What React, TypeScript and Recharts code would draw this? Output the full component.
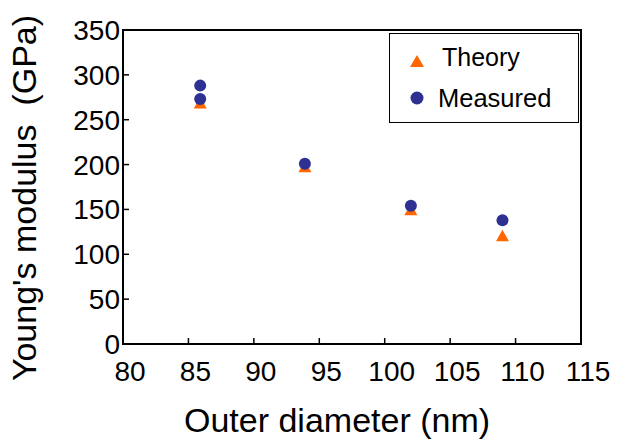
import { ScatterChart, Scatter, XAxis, YAxis, ReferenceArea, Legend } from "recharts"

const measuredDiameter = [85.9, 85.9, 93.9, 102.0, 109.0]
const measuredModulus = [288, 273, 201, 154, 138]
const theoryDiameter = [85.9, 93.9, 102.0, 109.0]
const theoryModulus = [268, 197, 149, 120]
const diameterTicks = [80, 85, 90, 95, 100, 105, 110, 115]
const modulusTicks = [0, 50, 100, 150, 200, 250, 300, 350]

const theoryData = theoryDiameter.map((d, i) => ({ diameter: d, modulus: theoryModulus[i] }))
const measuredData = measuredDiameter.map((d, i) => ({ diameter: d, modulus: measuredModulus[i] }))

const FONT = "'Liberation Sans', Arial, sans-serif"
const ORANGE = "#FF6600"
const NAVY = "#2E3192"

function TriangleShape(props: any) {
  const { cx, cy } = props
  return (
    <path
      d={`M${cx},${cy - 6.5}L${cx + 6.5},${cy + 5}L${cx - 6.5},${cy + 5}Z`}
      fill={ORANGE}
    />
  )
}

function DotShape(props: any) {
  const { cx, cy } = props
  return <circle cx={cx} cy={cy} r={6} fill={NAVY} />
}

// x labels sit a little right of their ticks in the original
function DiameterTick(props: any) {
  const { x, y, payload } = props
  return (
    <text x={x + 7} y={y} dy="0.71em" textAnchor="middle" fontSize={28} fontFamily={FONT} fill="#000">
      {payload.value}
    </text>
  )
}

function LegendBox() {
  return (
    <div
      style={{
        width: 188,
        height: 88,
        border: "1.5px solid #000",
        background: "#fff",
      }}
    >
      <svg width={188} height={88} style={{ display: "block" }}>
        <path d="M27,21L34,33L20,33Z" fill={ORANGE} />
        <text x={52} y={32} fontSize={25} fontFamily={FONT} fill="#000">
          Theory
        </text>
        <circle cx={27} cy={64} r={6.5} fill={NAVY} />
        <text x={48} y={73} fontSize={25.5} fontFamily={FONT} fill="#000">
          Measured
        </text>
      </svg>
    </div>
  )
}

export default function App() {
  return (
    <div style={{ position: "absolute", left: 0, top: 0, width: 630, height: 447, background: "#fff" }}>
      <ScatterChart
        width={630}
        height={447}
        margin={{ top: 30, right: 49, bottom: 0, left: 0 }}
      >
        <XAxis
          type="number"
          dataKey="diameter"
          domain={[80, 115]}
          ticks={diameterTicks}
          interval={0}
          height={103}
          axisLine={{ stroke: "#000", strokeWidth: 2 }}
          tickLine={{ stroke: "#000", strokeWidth: 1.5 }}
          tickSize={-6}
          tickMargin={23}
          tick={DiameterTick}
          label={{
            content: () => (
              <text x={337} y={432} textAnchor="middle" fontSize={34} fontFamily={FONT} fill="#000">
                Outer diameter (nm)
              </text>
            ),
          }}
        />
        <YAxis
          type="number"
          dataKey="modulus"
          domain={[0, 350]}
          ticks={modulusTicks}
          interval={0}
          width={123}
          axisLine={{ stroke: "#000", strokeWidth: 2 }}
          tickLine={{ stroke: "#000", strokeWidth: 1.5 }}
          tickSize={-6}
          tickMargin={9}
          tick={{ fill: "#000", fontSize: 28, fontFamily: FONT }}
          label={{
            content: () => (
              <text
                x={36}
                y={198}
                transform="rotate(-90 36 198)"
                textAnchor="middle"
                fontSize={34}
                fontFamily={FONT}
                fill="#000"
                style={{ whiteSpace: "pre" }}
              >
                {"Young's modulus  (GPa)"}
              </text>
            ),
          }}
        />
        <ReferenceArea x1={80} x2={115} y1={0} y2={350} fill="none" stroke="#000" strokeWidth={2} />
        <Scatter
          name="Theory"
          data={theoryData}
          shape={TriangleShape}
          isAnimationActive={false}
        />
        <Scatter
          name="Measured"
          data={measuredData}
          shape={DotShape}
          isAnimationActive={false}
        />
        <Legend
          layout="horizontal"
          verticalAlign="middle"
          content={() => <LegendBox />}
          wrapperStyle={{ top: 33, left: 389, width: 191, height: 91 }}
        />
      </ScatterChart>
    </div>
  )
}
